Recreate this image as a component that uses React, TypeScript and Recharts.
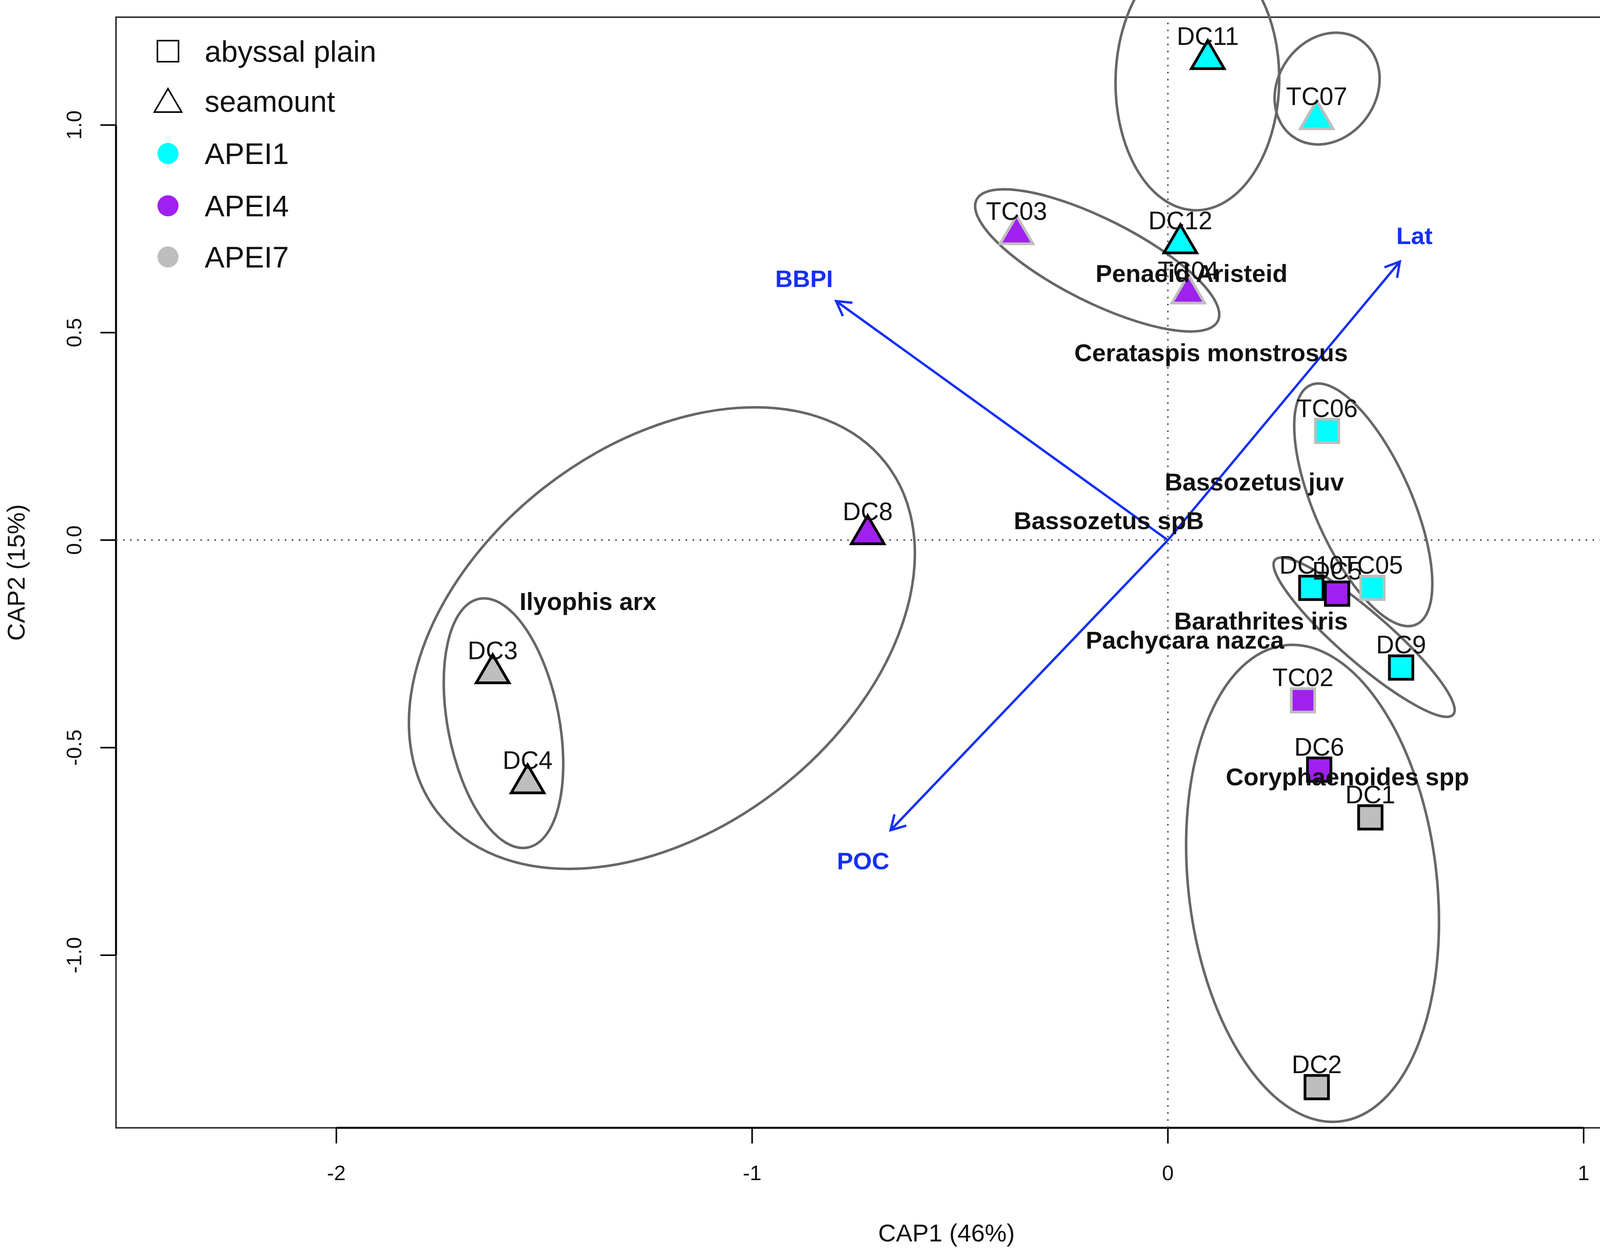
import React from "react";
import {
  ScatterChart,
  Scatter,
  XAxis,
  YAxis,
  ReferenceLine,
  ReferenceArea,
  Legend,
  Label,
} from "recharts";

const WIDTH = 4562;
const HEIGHT = 3206;
const MARGIN = { top: 44, right: 13, bottom: 0, left: 0 };
const X_AXIS_H = 318;
const Y_AXIS_W = 297;

const X_DOMAIN: [number, number] = [-2.53, 1.465];
const Y_DOMAIN: [number, number] = [-1.416, 1.26];
const X_TICKS = [-2, -1, 0, 1];
const X_TICK_LABELS = ["-2", "-1", "0", "1"];
const Y_TICKS = [-1, -0.5, 0, 0.5, 1];
const Y_TICK_LABELS = ["-1.0", "-0.5", "0.0", "0.5", "1.0"];

// sites (CAP scores)
const SITE_NAMES = ["DC11", "TC07", "TC03", "DC12", "TC04", "TC06", "DC8", "DC10", "DC5", "TC05", "DC9", "TC02", "DC6", "DC1", "DC2", "DC3", "DC4"];
const SITE_X = [0.096, 0.358, -0.364, 0.03, 0.049, 0.383, -0.722, 0.345, 0.407, 0.492, 0.561, 0.325, 0.364, 0.487, 0.358, -1.624, -1.54];
const SITE_Y = [1.17, 1.025, 0.748, 0.726, 0.605, 0.263, 0.025, -0.115, -0.129, -0.115, -0.307, -0.386, -0.553, -0.668, -1.318, -0.31, -0.575];
const SITE_HABITAT = ["seamount", "seamount", "seamount", "seamount", "seamount", "abyssal plain", "seamount", "abyssal plain", "abyssal plain", "abyssal plain", "abyssal plain", "abyssal plain", "abyssal plain", "abyssal plain", "abyssal plain", "seamount", "seamount"];
const SITE_APEI = ["APEI1", "APEI1", "APEI4", "APEI1", "APEI4", "APEI1", "APEI4", "APEI1", "APEI4", "APEI1", "APEI1", "APEI4", "APEI4", "APEI7", "APEI7", "APEI7", "APEI7"];

// species scores
const SPECIES_NAMES = ["Penaeid Aristeid", "Cerataspis monstrosus", "Bassozetus juv", "Bassozetus spB", "Ilyophis arx", "Barathrites iris", "Pachycara nazca", "Coryphaenoides spp"];
const SPECIES_X = [0.057, 0.104, 0.208, -0.142, -1.395, 0.224, 0.041, 0.432];
const SPECIES_Y = [0.643, 0.452, 0.14, 0.047, -0.148, -0.195, -0.241, -0.57];

// environmental vectors
const ENV_NAMES = ["Lat", "BBPI", "POC"];
const ENV_X = [0.558, -0.798, -0.667];
const ENV_Y = [0.671, 0.576, -0.699];
const ENV_LABEL_X = [0.593, -0.875, -0.733];
const ENV_LABEL_Y = [0.734, 0.63, -0.773];

// group ellipses: centre, semi-axes (CAP units), angle of major axis (deg)
const ELLIPSE_CX = [0.071, 0.383, -0.17, 0.47, 0.472, 0.348, -1.217, -1.598];
const ELLIPSE_CY = [1.107, 1.088, 0.674, 0.085, -0.234, -0.827, -0.236, -0.441];
const ELLIPSE_A = [0.312, 0.142, 0.325, 0.315, 0.284, 0.577, 0.684, 0.305];
const ELLIPSE_B = [0.197, 0.118, 0.1, 0.117, 0.06, 0.299, 0.46, 0.134];
const ELLIPSE_ANGLE = [89, 55, -26.7, -66.2, -41, -83.4, 38, 101];

const LEGEND_SHAPES = ["abyssal plain", "seamount"];
const LEGEND_GROUPS = ["APEI1", "APEI4", "APEI7"];

const APEI_COLOR: Record<string, string> = {
  APEI1: "#00FFFF",
  APEI4: "#A020F0",
  APEI7: "#BEBEBE",
};
const ARROW_COLOR = "#1530F5";

const sites = SITE_NAMES.map((name, i) => ({
  name,
  x: SITE_X[i],
  y: SITE_Y[i],
  habitat: SITE_HABITAT[i],
  apei: SITE_APEI[i],
}));
const species = SPECIES_NAMES.map((name, i) => ({ name, x: SPECIES_X[i], y: SPECIES_Y[i] }));
const envLabels = ENV_NAMES.map((name, i) => ({ name, x: ENV_LABEL_X[i], y: ENV_LABEL_Y[i] }));
const ellipses = ELLIPSE_CX.map((x, i) => ({
  x,
  y: ELLIPSE_CY[i],
  a: ELLIPSE_A[i],
  b: ELLIPSE_B[i],
  angle: ELLIPSE_ANGLE[i],
}));

// pixels per CAP unit, from the plot area
const PLOT_W = WIDTH - MARGIN.left - MARGIN.right - Y_AXIS_W;
const PLOT_H = HEIGHT - MARGIN.top - MARGIN.bottom - X_AXIS_H;
const K = (PLOT_W / (X_DOMAIN[1] - X_DOMAIN[0]) + PLOT_H / (Y_DOMAIN[1] - Y_DOMAIN[0])) / 2;

const EllipseShape = (props: any) => {
  const { cx, cy, payload } = props;
  return (
    <ellipse
      cx={cx}
      cy={cy}
      rx={payload.a * K}
      ry={payload.b * K}
      transform={`rotate(${-payload.angle} ${cx} ${cy})`}
      fill="none"
      stroke="#676767"
      strokeWidth={6.5}
    />
  );
};

const SiteShape = (props: any) => {
  const { cx, cy, payload } = props;
  const fill = APEI_COLOR[payload.apei];
  const stroke = payload.name.startsWith("DC") ? "#000" : "#BEBEBE";
  let marker;
  let labelDy;
  if (payload.habitat === "seamount") {
    const w = 84;
    const h = 72;
    marker = (
      <polygon
        points={`${cx},${cy - h / 2} ${cx + w / 2},${cy + h / 2} ${cx - w / 2},${cy + h / 2}`}
        fill={fill}
        stroke={stroke}
        strokeWidth={7}
        strokeLinejoin="miter"
      />
    );
    labelDy = 47;
  } else {
    const s = 60;
    marker = (
      <rect x={cx - s / 2} y={cy - s / 2} width={s} height={s} fill={fill} stroke={stroke} strokeWidth={7} />
    );
    labelDy = 58;
  }
  return (
    <g>
      {marker}
      <text x={cx} y={cy - labelDy} textAnchor="middle" dominantBaseline="central" fontSize={64} fill="#111">
        {payload.name}
      </text>
    </g>
  );
};

const SpeciesShape = (props: any) => {
  const { cx, cy, payload } = props;
  return (
    <text x={cx} y={cy} textAnchor="middle" dominantBaseline="central" fontSize={63} fontWeight="bold" fill="#111">
      {payload.name}
    </text>
  );
};

const EnvLabelShape = (props: any) => {
  const { cx, cy, payload } = props;
  return (
    <text x={cx} y={cy} textAnchor="middle" dominantBaseline="central" fontSize={62} fontWeight="bold" fill={ARROW_COLOR}>
      {payload.name}
    </text>
  );
};

const ArrowShape = (p: any) => {
  const { x1, y1, x2, y2 } = p;
  const ang = Math.atan2(y2 - y1, x2 - x1);
  const len = 42;
  const spread = Math.PI / 6;
  const ax = x2 - len * Math.cos(ang - spread);
  const ay = y2 - len * Math.sin(ang - spread);
  const bx = x2 - len * Math.cos(ang + spread);
  const by = y2 - len * Math.sin(ang + spread);
  return (
    <g>
      <line x1={x1} y1={y1} x2={x2} y2={y2} stroke={ARROW_COLOR} strokeWidth={6} />
      <polyline
        points={`${ax},${ay} ${x2},${y2} ${bx},${by}`}
        fill="none"
        stroke={ARROW_COLOR}
        strokeWidth={6}
      />
    </g>
  );
};

const XTick = (props: any) => {
  const { x, y, payload } = props;
  const i = X_TICKS.indexOf(payload.value);
  return (
    <text x={x} y={y + 25} textAnchor="middle" dominantBaseline="central" fontSize={54} fill="#111">
      {X_TICK_LABELS[i]}
    </text>
  );
};

const YTick = (props: any) => {
  const { x, y, payload } = props;
  const i = Y_TICKS.indexOf(payload.value);
  const tx = x - 25;
  return (
    <text
      x={tx}
      y={y}
      transform={`rotate(-90 ${tx} ${y})`}
      textAnchor="middle"
      dominantBaseline="central"
      fontSize={54}
      fill="#111"
    >
      {Y_TICK_LABELS[i]}
    </text>
  );
};

const LegendContent = () => {
  const symX = 50;
  const textX = 144;
  const rows = [71, 199, 333, 467, 598];
  return (
    <svg width={900} height={700}>
      <rect x={symX - 27} y={rows[0] - 27} width={54} height={54} fill="none" stroke="#000" strokeWidth={4} />
      <polygon
        points={`${symX},${rows[1] - 32} ${symX + 35},${rows[1] + 28} ${symX - 35},${rows[1] + 28}`}
        fill="none"
        stroke="#000"
        strokeWidth={4}
      />
      {LEGEND_GROUPS.map((g, i) => (
        <circle key={g} cx={symX} cy={rows[2 + i]} r={27} fill={APEI_COLOR[g]} />
      ))}
      {[...LEGEND_SHAPES, ...LEGEND_GROUPS].map((t, i) => (
        <text key={t} x={textX} y={rows[i]} dominantBaseline="central" fontSize={76} fill="#111">
          {t}
        </text>
      ))}
    </svg>
  );
};

export default function App() {
  return (
    <div
      style={{
        position: "absolute",
        left: 0,
        top: 0,
        width: WIDTH,
        height: HEIGHT,
        background: "#fff",
        fontFamily: "'Liberation Sans', Arial, Helvetica, sans-serif",
      }}
    >
      <ScatterChart width={WIDTH} height={HEIGHT} margin={MARGIN}>
        <XAxis
          dataKey="x"
          type="number"
          domain={X_DOMAIN}
          ticks={X_TICKS}
          interval={0}
          height={X_AXIS_H}
          axisLine={false}
          tickLine={{ stroke: "#000", strokeWidth: 4 }}
          tickSize={40}
          tickMargin={50}
          tick={<XTick />}
        >
          <Label
            content={(props: any) => {
              const vb = props.viewBox;
              return (
                <text
                  x={vb.x + vb.width / 2}
                  y={vb.y + 269}
                  textAnchor="middle"
                  dominantBaseline="central"
                  fontSize={63}
                  fill="#111"
                >
                  CAP1 (46%)
                </text>
              );
            }}
          />
        </XAxis>
        <YAxis
          dataKey="y"
          type="number"
          domain={Y_DOMAIN}
          ticks={Y_TICKS}
          interval={0}
          width={Y_AXIS_W}
          axisLine={false}
          tickLine={{ stroke: "#000", strokeWidth: 4 }}
          tickSize={40}
          tickMargin={43}
          tick={<YTick />}
        >
          <Label
            content={(props: any) => {
              const vb = props.viewBox;
              const cx = vb.x + 41;
              const cy = vb.y + vb.height / 2;
              return (
                <text
                  x={cx}
                  y={cy}
                  transform={`rotate(-90 ${cx} ${cy})`}
                  textAnchor="middle"
                  dominantBaseline="central"
                  fontSize={63}
                  fill="#111"
                >
                  CAP2 (15%)
                </text>
              );
            }}
          />
        </YAxis>

        <ReferenceArea
          x1={X_DOMAIN[0]}
          x2={X_DOMAIN[1]}
          y1={Y_DOMAIN[0]}
          y2={Y_DOMAIN[1]}
          fill="none"
          stroke="#333"
          strokeWidth={4}
          fillOpacity={0}
        />
        <ReferenceLine
          segment={[
            { x: X_TICKS[0], y: Y_DOMAIN[0] },
            { x: X_TICKS[X_TICKS.length - 1], y: Y_DOMAIN[0] },
          ]}
          stroke="#000"
          strokeWidth={5}
        />
        <ReferenceLine
          segment={[
            { x: X_DOMAIN[0], y: Y_TICKS[0] },
            { x: X_DOMAIN[0], y: Y_TICKS[Y_TICKS.length - 1] },
          ]}
          stroke="#000"
          strokeWidth={5}
        />
        <ReferenceLine x={0} stroke="#555" strokeWidth={4} strokeDasharray="4 14" />
        <ReferenceLine y={0} stroke="#555" strokeWidth={4} strokeDasharray="4 14" />

        <Scatter data={ellipses} shape={<EllipseShape />} isAnimationActive={false} />
        <Scatter data={sites} shape={<SiteShape />} isAnimationActive={false} />
        <Scatter data={species} shape={<SpeciesShape />} isAnimationActive={false} />

        {ENV_NAMES.map((name, i) => (
          <ReferenceLine
            key={name}
            segment={[
              { x: 0, y: 0 },
              { x: ENV_X[i], y: ENV_Y[i] },
            ]}
            shape={<ArrowShape />}
          />
        ))}
        <Scatter data={envLabels} shape={<EnvLabelShape />} isAnimationActive={false} />

        <Legend
          layout="vertical"
          align="center"
          verticalAlign="middle"
          content={<LegendContent />}
          wrapperStyle={{ left: 380, top: 60, width: 900, height: 700 }}
        />
      </ScatterChart>
    </div>
  );
}
